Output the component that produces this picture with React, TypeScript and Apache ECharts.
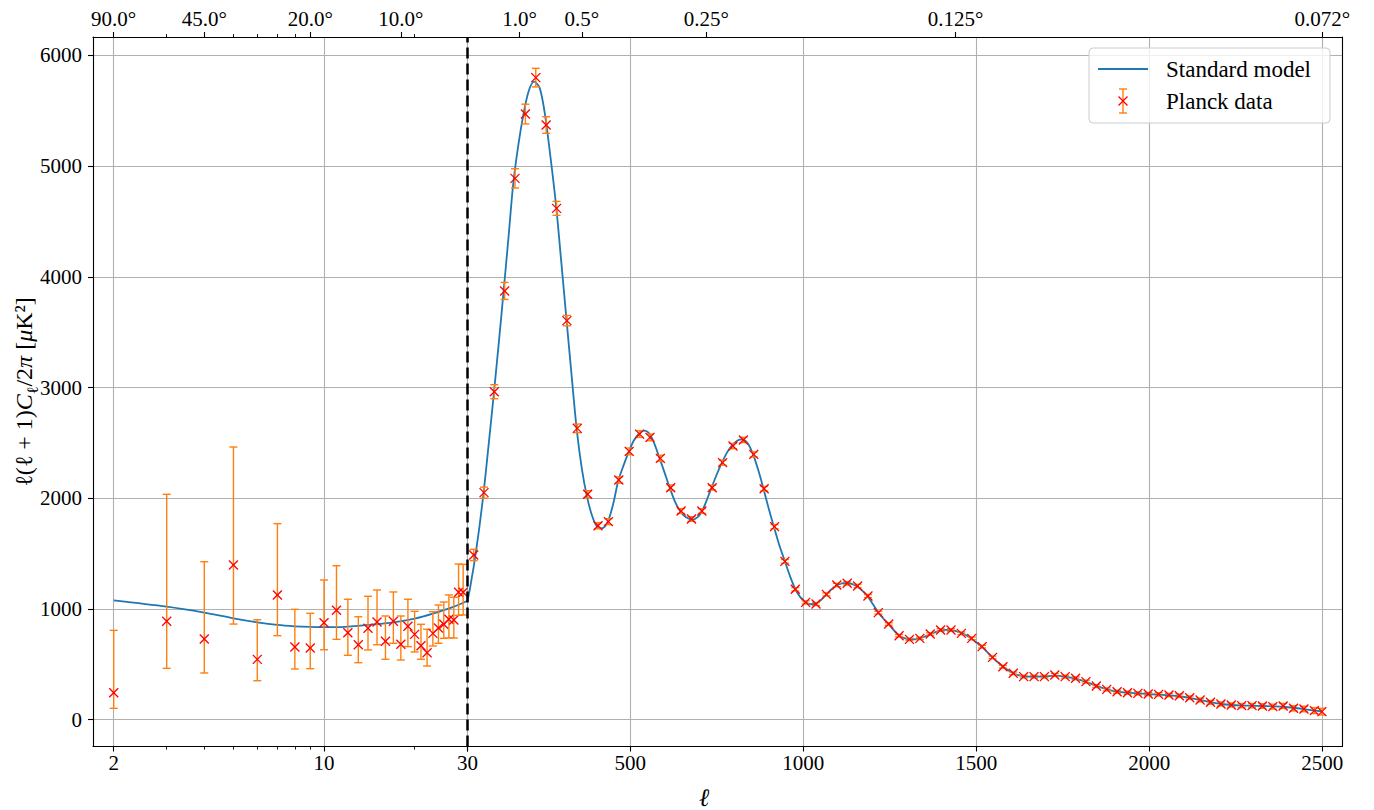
import React, { useEffect, useRef } from 'react';
import * as echarts from 'echarts';

// ---------- data ----------
// low multipoles (log part, 2..29)
const lowEll = [2, 3, 4, 5, 6, 7, 8, 9, 10, 11, 12, 13, 14, 15, 16, 17, 18, 19, 20, 21, 22, 23, 24, 25, 26, 27, 28, 29];
const lowVal = [244, 889, 729, 1397, 545, 1126, 657, 648, 876, 988, 786, 677, 826, 883, 708, 889, 681, 844, 771, 668, 605, 780, 828, 862, 907, 901, 1151, 1151];
const lowErrUpper = [807, 2036, 1427, 2463, 903, 1771, 997, 961, 1262, 1391, 1088, 930, 1115, 1172, 937, 1154, 937, 1088, 979, 862, 817, 976, 1036, 1063, 1127, 1106, 1406, 1403];
const lowErrLower = [103, 464, 422, 864, 352, 759, 458, 461, 632, 726, 582, 515, 630, 677, 546, 690, 539, 660, 612, 546, 485, 666, 690, 735, 738, 738, 943, 946];

// binned high multipoles (linear part)
const binEll = [47.7, 77.4, 107.1, 137, 167, 197, 227, 257, 287, 317, 347, 377, 407, 437, 467, 497, 527, 557, 587, 617,
  647, 677, 707, 737, 767, 797, 827, 857, 887, 917, 947, 977, 1007, 1037, 1067, 1097, 1127, 1157, 1187, 1217,
  1247, 1277, 1307, 1337, 1367, 1397, 1427, 1457, 1487, 1517, 1547, 1577, 1607, 1637, 1667, 1697, 1727, 1757, 1787, 1817,
  1847, 1877, 1907, 1937, 1967, 1997, 2027, 2057, 2087, 2117, 2147, 2177, 2207, 2237, 2267, 2297, 2327, 2357, 2387, 2417,
  2447, 2477, 2499];
const binVal = [1488, 2051, 2963, 3873, 4890, 5471, 5800, 5372, 4619, 3605, 2632, 2037, 1752, 1789, 2165, 2424, 2580, 2550, 2361, 2096,
  1885, 1813, 1885, 2096, 2322, 2472, 2527, 2397, 2087, 1744, 1430, 1178, 1060, 1045, 1132, 1217, 1232, 1208, 1117, 967,
  864, 759, 726, 735, 774, 810, 810, 780, 735, 660, 563, 479, 419, 389, 389, 389, 404, 389, 374, 344,
  304, 274, 253, 244, 238, 232, 229, 223, 217, 199, 178, 157, 142, 133, 127, 127, 124, 118, 124, 103,
  97, 82, 73];
const binErr = [51, 50, 63, 77, 87, 89, 84, 75, 63, 47, 39, 32, 28, 27, 28, 30, 30, 30, 28, 25,
  22, 21, 21, 22, 23, 24, 24, 23, 21, 19, 17, 15, 14, 14, 14, 15, 15, 15, 14, 13,
  12, 11, 11, 11, 11, 12, 12, 12, 12, 12, 12, 12, 12, 12, 12, 12, 13, 13, 13, 13,
  13, 13, 13, 14, 14, 14, 15, 15, 16, 16, 17, 17, 18, 18, 19, 20, 21, 22, 23, 24,
  25, 27, 30];

// standard model curve
const modelEllLow = [2, 3, 4, 5, 6, 7, 8, 9, 10, 11, 12, 14, 17, 20, 23, 27, 30];
const modelValLow = [1078, 1021, 967, 916, 880, 856, 844, 838, 836, 836, 841, 856, 880, 913, 958, 1021, 1075];
const modelEllHigh = [30, 36, 42, 48, 56, 64, 76, 90, 105, 120, 134, 148, 162, 177, 191, 206, 222, 238, 253, 270,
  286, 300, 315, 330, 345, 360, 375, 390, 404, 418, 434, 450, 466, 481, 496, 510, 525, 538, 552, 567,
  585, 600, 614, 630, 645, 660, 680, 695, 706, 720, 735, 750, 765, 780, 795, 810, 824, 840, 855, 870,
  885, 900, 915, 930, 947, 962, 977, 992, 1007, 1022, 1037, 1052, 1067, 1082, 1097, 1112, 1127, 1142, 1157, 1172,
  1187, 1202, 1217, 1232, 1247, 1262, 1277, 1292, 1307, 1322, 1337, 1352, 1367, 1382, 1397, 1412, 1427, 1442, 1457, 1472,
  1487, 1502, 1517, 1532, 1547, 1562, 1577, 1592, 1607, 1622, 1637, 1667, 1697, 1727, 1757, 1787, 1817, 1847, 1877, 1907,
  1937, 1967, 1997, 2027, 2057, 2087, 2117, 2147, 2177, 2207, 2237, 2267, 2297, 2327, 2357, 2387, 2417, 2447, 2477, 2500];
const modelValHigh = [1075, 1170, 1280, 1390, 1560, 1740, 2045, 2460, 2920, 3400, 3870, 4350, 4845, 5200, 5462, 5673, 5763, 5710, 5480, 5070,
  4634, 4160, 3641, 3130, 2632, 2270, 2015, 1840, 1745, 1729, 1780, 1940, 2165, 2300, 2421, 2520, 2585, 2611, 2595, 2515,
  2361, 2225, 2096, 1965, 1880, 1830, 1807, 1830, 1875, 1975, 2096, 2215, 2322, 2415, 2480, 2522, 2533, 2495, 2397, 2255,
  2087, 1910, 1744, 1585, 1430, 1295, 1180, 1105, 1060, 1043, 1048, 1083, 1132, 1180, 1215, 1232, 1235, 1225, 1200, 1162,
  1112, 1040, 967, 912, 862, 808, 762, 737, 727, 726, 735, 752, 772, 792, 806, 812, 810, 800, 782, 760,
  730, 695, 655, 610, 563, 520, 480, 447, 420, 402, 392, 388, 392, 398, 390, 372, 342, 305, 274, 254,
  244, 238, 232, 226, 220, 212, 198, 178, 158, 143, 133, 128, 126, 124, 121, 117, 108, 96, 83, 74];

// ticks
const yTicks = [0, 1000, 2000, 3000, 4000, 5000, 6000];
const bottomLogTicks = [2, 10, 30];
const bottomLogLabels = [2, 10];
const bottomLogMinor = [3, 4, 5, 6, 7, 8, 9, 20];
const bottomLinTicks = [30, 500, 1000, 1500, 2000, 2500];
const topTickEll = [2, 4, 9, 18, 180, 360, 720, 1440, 2500];
const topTickLabels = ['90.0°', '45.0°', '20.0°', '10.0°', '1.0°', '0.5°', '0.25°', '0.125°', '0.072°'];
const topLogMinor = [3, 5, 6, 7, 8, 20];

const FONT = '"Liberation Serif", "DejaVu Serif", serif';
const BLUE = '#1f77b4';
const ORANGE = '#ff7f0e';
const GRID = '#b0b0b0';

function topLabel(v: number): string {
  for (let i = 0; i < topTickEll.length; i++) {
    if (Math.abs(topTickEll[i] - v) / topTickEll[i] < 1e-3) return topTickLabels[i];
  }
  return '';
}

function errRender(params: any, api: any) {
  const x = api.value(0);
  const v = api.value(1);
  const lo = api.value(2);
  const hi = api.value(3);
  const p = api.coord([x, v]);
  const pl = api.coord([x, lo]);
  const ph = api.coord([x, hi]);
  const cw = 4;
  const s = 4.5;
  const eStyle = { stroke: ORANGE, lineWidth: 1.4 };
  const mStyle = { stroke: '#ff0000', lineWidth: 1.3 };
  return {
    type: 'group',
    children: [
      { type: 'line', shape: { x1: pl[0], y1: pl[1], x2: ph[0], y2: ph[1] }, style: eStyle },
      { type: 'line', shape: { x1: pl[0] - cw, y1: pl[1], x2: pl[0] + cw, y2: pl[1] }, style: eStyle },
      { type: 'line', shape: { x1: ph[0] - cw, y1: ph[1], x2: ph[0] + cw, y2: ph[1] }, style: eStyle },
      { type: 'line', shape: { x1: p[0] - s, y1: p[1] - s, x2: p[0] + s, y2: p[1] + s }, style: mStyle },
      { type: 'line', shape: { x1: p[0] - s, y1: p[1] + s, x2: p[0] + s, y2: p[1] - s }, style: mStyle },
    ],
  };
}

export default function App() {
  const ref = useRef<HTMLDivElement>(null);
  useEffect(() => {
    const chart = echarts.init(ref.current as HTMLDivElement, null, { renderer: 'svg' });

    const Y_MIN = -242;
    const Y_MAX = 6167;
    const LOG_MIN = 1.707;
    const LIN_MAX = 2557;

    const axisLine = { show: true, onZero: false, lineStyle: { color: '#000', width: 1.1 } };
    const noLine = { show: false, onZero: false };
    const label = { fontSize: 21, fontFamily: FONT, color: '#000' };

    const lowData = lowEll.map((l, i) => [l, lowVal[i], lowErrLower[i], lowErrUpper[i]]);
    const binData = binEll.map((l, i) => [l, binVal[i], binVal[i] - binErr[i], binVal[i] + binErr[i]]);

    const option: any = {
      animation: false,
      backgroundColor: '#fff',
      grid: [
        { left: 93, top: 37, width: 374.6, height: 709.5 },
        { left: 467.6, top: 37, width: 874.4, height: 709.5 },
      ],
      xAxis: [
        {
          gridIndex: 0, type: 'log', logBase: 10, min: LOG_MIN, max: 30, position: 'bottom',
          axisLine, axisTick: { show: true, length: 5, customValues: bottomLogTicks, lineStyle: { color: '#000', width: 1.1 } },
          axisLabel: { ...label, margin: 6, customValues: bottomLogLabels, formatter: (v: number) => String(Math.round(v)) },
          splitLine: { show: true, lineStyle: { color: GRID, width: 1.1 } },
        },
        {
          gridIndex: 0, type: 'log', logBase: 10, min: LOG_MIN, max: 30, position: 'bottom',
          axisLine: noLine, axisTick: { show: true, length: 3, customValues: bottomLogMinor, lineStyle: { color: '#000', width: 0.9 } },
          axisLabel: { show: false }, splitLine: { show: false },
        },
        {
          gridIndex: 0, type: 'log', logBase: 10, min: LOG_MIN, max: 30, position: 'top',
          axisLine, axisTick: { show: true, length: 5, customValues: [2, 4, 9, 18], lineStyle: { color: '#000', width: 1.1 } },
          axisLabel: { ...label, margin: 8, customValues: [2, 4, 9, 18], formatter: (v: number) => topLabel(v) },
          splitLine: { show: false },
        },
        {
          gridIndex: 0, type: 'log', logBase: 10, min: LOG_MIN, max: 30, position: 'top',
          axisLine: noLine, axisTick: { show: true, length: 3, customValues: topLogMinor, lineStyle: { color: '#000', width: 0.9 } },
          axisLabel: { show: false }, splitLine: { show: false },
        },
        {
          gridIndex: 1, type: 'value', min: 30, max: LIN_MAX, position: 'bottom',
          axisLine, axisTick: { show: true, length: 5, customValues: bottomLinTicks, lineStyle: { color: '#000', width: 1.1 } },
          axisLabel: { ...label, margin: 6, customValues: bottomLinTicks, formatter: (v: number) => String(v) },
          splitLine: { show: true, lineStyle: { color: GRID, width: 1.1 } },
        },
        {
          gridIndex: 1, type: 'value', min: 30, max: LIN_MAX, position: 'top',
          axisLine, axisTick: { show: true, length: 5, customValues: [180, 360, 720, 1440, 2500], lineStyle: { color: '#000', width: 1.1 } },
          axisLabel: { ...label, margin: 8, customValues: [180, 360, 720, 1440, 2500], formatter: (v: number) => topLabel(v) },
          splitLine: { show: false },
        },
      ],
      yAxis: [
        {
          gridIndex: 0, type: 'value', min: Y_MIN, max: Y_MAX, position: 'left',
          axisLine, axisTick: { show: true, length: 5, customValues: yTicks, lineStyle: { color: '#000', width: 1.1 } },
          axisLabel: { ...label, margin: 11, customValues: yTicks, formatter: (v: number) => String(v) },
          splitLine: { show: true, lineStyle: { color: GRID, width: 1.1 } },
        },
        {
          gridIndex: 1, type: 'value', min: Y_MIN, max: Y_MAX, position: 'right',
          axisLine, axisTick: { show: false, customValues: yTicks },
          axisLabel: { show: false, customValues: yTicks },
          splitLine: { show: true, lineStyle: { color: GRID, width: 1.1 } },
        },
      ],
      series: [
        {
          name: 'Standard model', type: 'line', xAxisIndex: 0, yAxisIndex: 0,
          data: modelEllLow.map((l, i) => [l, modelValLow[i]]),
          showSymbol: false, smooth: 0.3, lineStyle: { color: BLUE, width: 1.8 }, z: 2,
        },
        {
          name: 'Standard model', type: 'line', xAxisIndex: 4, yAxisIndex: 1,
          data: modelEllHigh.map((l, i) => [l, modelValHigh[i]]),
          showSymbol: false, smooth: 0.3, lineStyle: { color: BLUE, width: 1.8 }, z: 2,
          markLine: {
            silent: true, symbol: ['none', 'none'], label: { show: false },
            lineStyle: { color: '#000', type: [11, 5], width: 2.5 },
            data: [{ xAxis: 30 }],
            z: 10,
          },
        },
        {
          name: 'Planck data', type: 'custom', xAxisIndex: 0, yAxisIndex: 0,
          data: lowData, encode: { x: 0, y: [1, 2, 3] }, renderItem: errRender, z: 3,
        },
        {
          name: 'Planck data', type: 'custom', xAxisIndex: 4, yAxisIndex: 1,
          data: binData, encode: { x: 0, y: [1, 2, 3] }, renderItem: errRender, z: 3,
        },
      ],
      graphic: [
        // legend
        {
          type: 'rect', z: 100, shape: { x: 1089, y: 48, width: 241, height: 75, r: 4 },
          style: { fill: 'rgba(255,255,255,0.8)', stroke: '#cccccc', lineWidth: 1 },
        },
        { type: 'line', z: 101, shape: { x1: 1098, y1: 69, x2: 1148, y2: 69 }, style: { stroke: BLUE, lineWidth: 1.8 } },
        { type: 'line', z: 101, shape: { x1: 1123, y1: 89, x2: 1123, y2: 113 }, style: { stroke: ORANGE, lineWidth: 1.4 } },
        { type: 'line', z: 101, shape: { x1: 1119, y1: 89, x2: 1127, y2: 89 }, style: { stroke: ORANGE, lineWidth: 1.4 } },
        { type: 'line', z: 101, shape: { x1: 1119, y1: 113, x2: 1127, y2: 113 }, style: { stroke: ORANGE, lineWidth: 1.4 } },
        { type: 'line', z: 102, shape: { x1: 1118.5, y1: 96.5, x2: 1127.5, y2: 105.5 }, style: { stroke: '#ff0000', lineWidth: 1.3 } },
        { type: 'line', z: 102, shape: { x1: 1118.5, y1: 105.5, x2: 1127.5, y2: 96.5 }, style: { stroke: '#ff0000', lineWidth: 1.3 } },
        {
          type: 'text', z: 101, x: 1166, y: 69,
          style: { text: 'Standard model', fontSize: 23, fontFamily: FONT, fill: '#000', align: 'left', verticalAlign: 'middle' },
        },
        {
          type: 'text', z: 101, x: 1166, y: 101,
          style: { text: 'Planck data', fontSize: 23, fontFamily: FONT, fill: '#000', align: 'left', verticalAlign: 'middle' },
        },
        // x axis title
        {
          type: 'text', x: 704, y: 797,
          style: { text: 'ℓ', fontSize: 25, fontFamily: FONT, fontStyle: 'italic', fill: '#000', align: 'center', verticalAlign: 'middle' },
        },
        // y axis title
        {
          type: 'text', x: 24, y: 392, rotation: Math.PI / 2,
          style: {
            text: '{n|ℓ(ℓ + 1)}{i|C}{s|ℓ}{n|/2}{i|π}{n| [}{i|μ}{n|K²]}',
            fontSize: 24, fontFamily: FONT, fill: '#000', align: 'center', verticalAlign: 'middle',
            rich: {
              n: { fontSize: 24, fontFamily: FONT, fill: '#000', lineHeight: 32, verticalAlign: 'middle' },
              i: { fontSize: 24, fontFamily: FONT, fontStyle: 'italic', fill: '#000', lineHeight: 32, verticalAlign: 'middle' },
              s: { fontSize: 16, fontFamily: FONT, fill: '#000', lineHeight: 32, verticalAlign: 'bottom' },
            },
          },
        },
      ],
    };

    chart.setOption(option);
    return () => chart.dispose();
  }, []);
  return <div ref={ref} style={{ position: 'fixed', left: 0, top: 0, width: 1374, height: 810, background: '#fff' }} />;
}
